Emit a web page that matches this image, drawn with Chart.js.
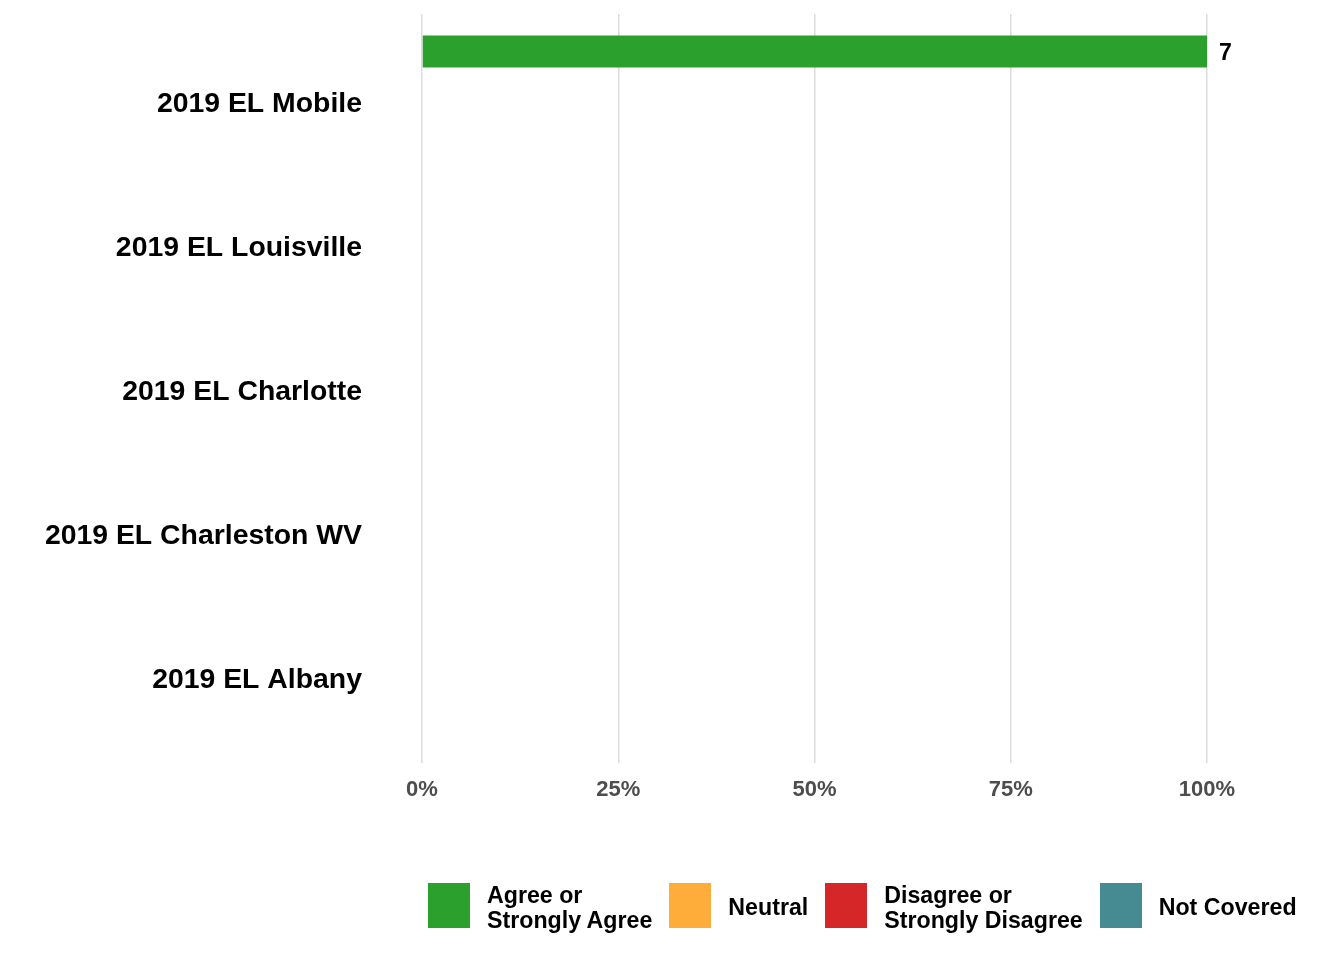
<!DOCTYPE html>
<html>
<head>
<meta charset="utf-8">
<script src="https://cdn.jsdelivr.net/npm/chart.js@4.4.0/dist/chart.umd.min.js"></script>
<style>
  html, body { margin: 0; padding: 0; background: #ffffff; }
  #wrap { position: relative; width: 1344px; height: 960px; }
  canvas { position: absolute; left: 0; top: 0; }
  #legend { position: absolute; left: 428px; top: 880.5px; display: flex; align-items: center;
    font-family: "Liberation Sans", Arial, sans-serif; font-weight: bold; font-size: 23.2px; color: #000; }
  .item { display: flex; align-items: center; margin-right: 17px; height: 50px; }
  .box { width: 42px; height: 45px; margin-right: 17px; flex: none; }
  .txt { line-height: 25px; position: relative; top: 2px; white-space: nowrap; }
</style>
</head>
<body>
<div id="wrap">
  <canvas id="c" width="1344" height="960"></canvas>
  <div id="legend"></div>
</div>
<script>
const categories = ["2019 EL Mobile", "2019 EL Louisville", "2019 EL Charlotte", "2019 EL Charleston WV", "2019 EL Albany"];
const seriesNames = [["Agree or", "Strongly Agree"], ["Neutral"], ["Disagree or", "Strongly Disagree"], ["Not Covered"]];
const seriesColors = ["#2CA02C", "#FFAD3A", "#D62728", "#468A92"];
const agreePct = [100, 0, 0, 0, 0];
const neutralPct = [0, 0, 0, 0, 0];
const disagreePct = [0, 0, 0, 0, 0];
const notCoveredPct = [0, 0, 0, 0, 0];
const agreeCount = [7, 0, 0, 0, 0];
const neutralCount = [0, 0, 0, 0, 0];
const disagreeCount = [0, 0, 0, 0, 0];
const notCoveredCount = [0, 0, 0, 0, 0];
const xTicks = [0, 25, 50, 75, 100];

const pctSets = [agreePct, neutralPct, disagreePct, notCoveredPct];
const countSets = [agreeCount, neutralCount, disagreeCount, notCoveredCount];

const FONT = "'Liberation Sans', Arial, sans-serif";

const datasets = pctSets.map((arr, i) => ({
  label: seriesNames[i].join(' '),
  data: arr.map((v, j) => ({ x: v, y: j })),
  counts: countSets[i],
  backgroundColor: seriesColors[i],
  borderWidth: 0,
  categoryPercentage: 0.905,
  barPercentage: 0.98
}));

const valueLabels = {
  id: 'valueLabels',
  afterDatasetsDraw(chart) {
    const ctx = chart.ctx;
    ctx.save();
    ctx.font = "bold 23px " + FONT;
    ctx.fillStyle = "#000";
    ctx.textAlign = "left";
    ctx.textBaseline = "middle";
    chart.data.datasets.forEach((ds, i) => {
      const meta = chart.getDatasetMeta(i);
      meta.data.forEach((bar, j) => {
        if (ds.data[j].x > 0) {
          ctx.fillText(String(ds.counts[j]), bar.x + 12, bar.y + 2);
        }
      });
    });
    ctx.restore();
  }
};

new Chart(document.getElementById('c'), {
  type: 'bar',
  data: { datasets },
  plugins: [valueLabels],
  options: {
    indexAxis: 'y',
    responsive: false,
    animation: false,
    layout: { padding: { top: 14, right: 137, bottom: 143, left: 0 } },
    plugins: { legend: { display: false }, tooltip: { enabled: false } },
    scales: {
      x: {
        type: 'linear',
        min: 0, max: 100,
        afterBuildTicks: (s) => { s.ticks = xTicks.map(v => ({ value: v })); },
        grid: { color: '#dcdcdc', lineWidth: 1.5, drawTicks: false },
        border: { display: false },
        ticks: {
          padding: 14,
          color: '#4d4d4d',
          font: { family: FONT, size: 22, weight: 'bold' },
          callback: (v) => v + '%'
        }
      },
      y: {
        type: 'linear',
        reverse: true,
        offset: false,
        min: -0.6, max: 4.6,
        afterBuildTicks: (s) => { s.ticks = categories.map((c, i) => ({ value: i })); },
        afterFit: (s) => { s.width = 422; s.paddingTop = 0; s.paddingBottom = 0; },
        grid: { display: false, drawTicks: false },
        border: { display: false },
        ticks: {
          padding: 60,
          labelOffset: 4,
          color: '#000',
          font: { family: FONT, size: 28.4, weight: 'bold' },
          callback: (v) => categories[v]
        }
      }
    }
  }
});

const legend = document.getElementById('legend');
seriesNames.forEach((name, i) => {
  const item = document.createElement('div');
  item.className = 'item';
  const box = document.createElement('div');
  box.className = 'box';
  box.style.background = seriesColors[i];
  const txt = document.createElement('div');
  txt.className = 'txt';
  txt.innerHTML = name.join('<br>');
  item.appendChild(box);
  item.appendChild(txt);
  legend.appendChild(item);
});
</script>
</body>
</html>
